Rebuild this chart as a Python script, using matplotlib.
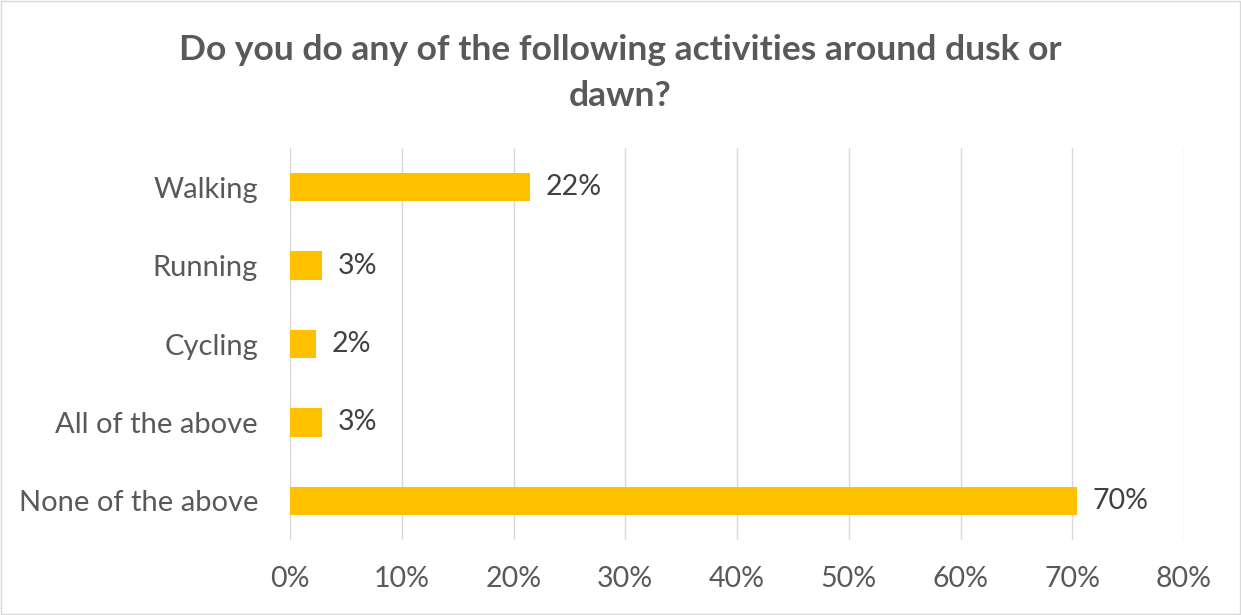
import matplotlib
matplotlib.use("Agg")
import matplotlib.pyplot as plt
from matplotlib.patches import Rectangle

categories = ["Walking", "Running", "Cycling", "All of the above", "None of the above"]
values = [21.5, 2.9, 2.3, 2.9, 70.4]
value_labels = ["22%", "3%", "2%", "3%", "70%"]
xticks = [0, 10, 20, 30, 40, 50, 60, 70, 80]

plt.rcParams["font.family"] = ["Lato", "DejaVu Sans"]
text_color = "#595959"

fig = plt.figure(figsize=(12.41, 6.15), dpi=100)
ax = fig.add_axes([290 / 1241, 1 - 540 / 615, (1184 - 290) / 1241, 392 / 615])

y = list(range(len(categories)))
ax.barh(y, values, height=0.36, color="#FFC000", zorder=3)
for yi, v, lab in zip(y, values, value_labels):
    ax.text(v + 1.4, yi, lab, va="center", ha="left", fontsize=20.5, color="#404040")

ax.set_xlim(0, 80)
ax.set_ylim(len(categories) - 0.5, -0.5)
ax.set_xticks(xticks)
ax.set_xticklabels([f"{t}%" for t in xticks], fontsize=20.5, color=text_color)
ax.set_yticks(y)
ax.set_yticklabels(categories, fontsize=21, color=text_color)
ax.tick_params(axis="both", length=0)
ax.tick_params(axis="y", pad=23)
ax.tick_params(axis="x", pad=19)
ax.grid(axis="x", color="#D9D9D9", linewidth=1, zorder=0)
for s in ax.spines.values():
    s.set_visible(False)

fig.text(0.5, 1 - 50 / 615, "Do you do any of the following activities around dusk or",
         ha="center", va="center", fontsize=25.5, fontweight="bold", color=text_color)
fig.text(0.5, 1 - 96 / 615, "dawn?",
         ha="center", va="center", fontsize=25.5, fontweight="bold", color=text_color)

fig.patches.append(Rectangle((0.001, 0.001), 0.998, 0.998, transform=fig.transFigure,
                             fill=False, edgecolor="#D9D9D9", linewidth=1))

fig.savefig("out.png", dpi=100)
